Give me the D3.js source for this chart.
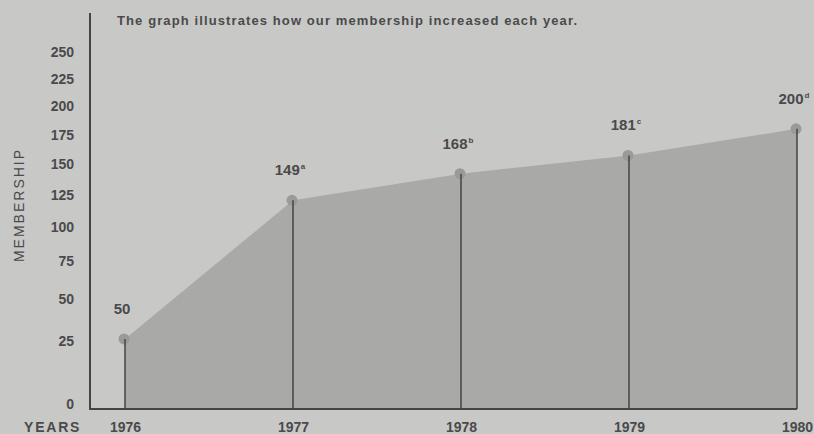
<!DOCTYPE html>
<html>
<head>
<meta charset="utf-8">
<script src="https://cdn.jsdelivr.net/npm/d3@7/dist/d3.min.js"></script>
<style>
  html, body { margin: 0; padding: 0; background: #c8c8c7; }
  svg { display: block; }
  text { font-family: "Liberation Sans", Arial, Helvetica, sans-serif; fill: #4a4a4a; font-weight: bold; }
</style>
</head>
<body>
<svg id="chart" width="814" height="434"></svg>
<script>
// ---- data ----
const years = [1976, 1977, 1978, 1979, 1980];
const members = [50, 149, 168, 181, 200];
const footnotes = ["", "a", "b", "c", "d"];
const yTickValues = [0, 25, 50, 75, 100, 125, 150, 175, 200, 225, 250];
const titleText = "The graph illustrates how our membership increased each year.";
const yAxisTitle = "MEMBERSHIP";
const xAxisTitle = "YEARS";

const data = years.map((yr, i) => ({ year: yr, value: members[i], note: footnotes[i] }));

const svg = d3.select("#chart");
const W = 814, H = 434;
const baseY = 409, axisX = 90;

// plotting scales
const x = d3.scaleLinear().domain([1976, 1980]).range([125, 797]);
const y = d3.scaleLinear().domain([0, 292]).range([baseY, 0]);
// the printed tick labels are spaced unevenly (compressed toward the top)
const yTickScale = d3.scalePow().exponent(0.75).domain([0, 250]).range([404, 52]);

// background
svg.append("rect").attr("width", W).attr("height", H).attr("fill", "#c8c8c7");

// area
const area = d3.area()
  .x(d => x(d.year))
  .y0(y(0))
  .y1(d => y(d.value));
svg.append("path").datum(data)
  .attr("d", area)
  .attr("fill", "#a9a9a8");

// dots
svg.append("g").selectAll("circle").data(data).join("circle")
  .attr("cx", d => x(d.year) - 1)
  .attr("cy", d => y(d.value))
  .attr("r", 5.5)
  .attr("fill", "#9a9a99");

// vertical year lines
svg.append("g").selectAll("line").data(data).join("line")
  .attr("x1", d => x(d.year)).attr("x2", d => x(d.year))
  .attr("y1", d => y(d.value)).attr("y2", baseY)
  .attr("stroke", "#444").attr("stroke-width", 1.5);

// axes lines
svg.append("line")
  .attr("x1", axisX).attr("x2", axisX).attr("y1", 13).attr("y2", baseY + 1)
  .attr("stroke", "#444").attr("stroke-width", 2);
svg.append("line")
  .attr("x1", axisX - 1).attr("x2", x(1980)).attr("y1", baseY).attr("y2", baseY)
  .attr("stroke", "#444").attr("stroke-width", 2);

// y tick labels
const yAxis = d3.axisLeft(yTickScale).tickValues(yTickValues).tickSize(0).tickPadding(3);
const gy = svg.append("g").attr("transform", "translate(77,0)").call(yAxis);
gy.select(".domain").remove();
gy.selectAll("text")
  .attr("font-size", 14).attr("font-family", null).attr("fill", null);

// x tick labels
const xAxis = d3.axisBottom(x).tickValues(years).tickFormat(d3.format("d")).tickSize(0).tickPadding(13);
const gx = svg.append("g").attr("transform", `translate(0,${baseY})`).call(xAxis);
gx.select(".domain").remove();
gx.selectAll("text")
  .attr("font-size", 14).attr("font-family", null).attr("fill", null);

// value labels with footnote marks
const lab = svg.append("g").selectAll("text").data(data).join("text")
  .attr("x", d => x(d.year) - 3)
  .attr("y", d => y(d.value) - 25)
  .attr("text-anchor", "middle")
  .attr("font-size", 15);
lab.append("tspan").text(d => d.value);
lab.append("tspan").text(d => d.note)
  .attr("font-size", 8).attr("dy", -6).attr("dx", 1);

// titles
svg.append("text")
  .attr("x", 117).attr("y", 25)
  .attr("font-size", 13)
  .attr("textLength", 460).attr("lengthAdjust", "spacing")
  .text(titleText);

svg.append("text")
  .attr("transform", "translate(24,205) rotate(-90)")
  .attr("text-anchor", "middle")
  .attr("font-size", 14)
  .style("font-weight", "normal")
  .style("letter-spacing", "2px")
  .text(yAxisTitle);

svg.append("text")
  .attr("x", 24).attr("y", 432)
  .attr("font-size", 14)
  .style("letter-spacing", "1.8px")
  .text(xAxisTitle);
</script>
</body>
</html>
